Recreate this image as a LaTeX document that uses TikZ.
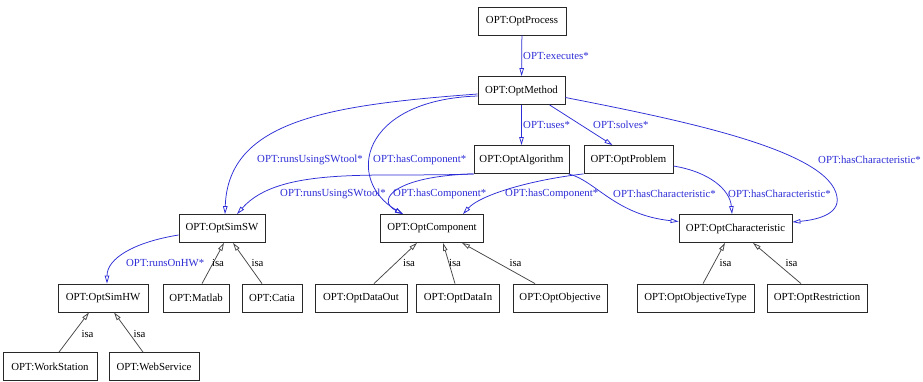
\documentclass[tikz,border=0pt]{standalone}
\usepackage{fontspec}
\setmainfont{Liberation Serif}
\usetikzlibrary{arrows.meta}
\definecolor{relblue}{RGB}{45,45,215}
\definecolor{boxgray}{RGB}{40,40,40}
\definecolor{isagray}{RGB}{70,70,70}
\begin{document}
\begin{tikzpicture}[x=1pt,y=-1pt,
  every node/.style={font=\fontsize{10.8}{12}\selectfont},
  box/.style={draw=boxgray, line width=0.8pt, minimum height=28pt, inner sep=2pt, fill=white},
  rel/.style={draw=relblue, line width=0.75pt, -{Triangle[open, length=8pt, width=4.5pt]}},
  isa/.style={draw=isagray, line width=0.75pt, -{Triangle[open, length=8pt, width=4.5pt]}},
  rlbl/.style={text=relblue, anchor=west, inner sep=0pt},
  ilbl/.style={text=black, inner sep=0pt}]
\useasboundingbox[fill=white] (0,0) rectangle (923,382);

% nodes
\node[box, minimum width=88pt] (proc) at (522,21) {OPT:OptProcess};
\node[box, minimum width=87pt] (meth) at (521.5,90.5) {OPT:OptMethod};
\node[box, minimum width=95pt] (alg) at (521.5,159.5) {OPT:OptAlgorithm};
\node[box, minimum width=89pt] (prob) at (628.5,159.5) {OPT:OptProblem};
\node[box, minimum width=86pt] (simsw) at (222,228.5) {OPT:OptSimSW};
\node[box, minimum width=103pt] (comp) at (432,228.5) {OPT:OptComponent};
\node[box, minimum width=113pt] (char) at (735.5,228.5) {OPT:OptCharacteristic};
\node[box, minimum width=90pt] (simhw) at (103,298) {OPT:OptSimHW};
\node[box, minimum width=66pt] (matlab) at (196,298) {OPT:Matlab};
\node[box, minimum width=60pt] (catia) at (272,298) {OPT:Catia};
\node[box, minimum width=92pt] (dout) at (361,298) {OPT:OptDataOut};
\node[box, minimum width=83pt] (din) at (458,298) {OPT:OptDataIn};
\node[box, minimum width=94pt] (obj) at (560,298) {OPT:OptObjective};
\node[box, minimum width=117pt] (otype) at (695.5,298) {OPT:OptObjectiveType};
\node[box, minimum width=100pt] (restr) at (817,298) {OPT:OptRestriction};
\node[box, minimum width=94pt] (wst) at (50,366.5) {OPT:WorkStation};
\node[box, minimum width=90pt] (wsv) at (154,366.5) {OPT:WebService};

% relation edges
\draw[rel] (proc) -- (meth);
\draw[rel] (meth) -- (alg);
\draw[rel] ([xshift=28pt]meth.south) -- ([xshift=-16pt]prob.north);
\draw[rel] ([yshift=-7pt]meth.east) .. controls (680,120) and (830,150) .. (837,197)
  .. controls (840,215) and (815,220) .. ([yshift=6.5pt]char.east);
\draw[rel] ([yshift=-3.5pt]meth.west) .. controls (330,105) and (228,120) .. ([xshift=3pt]simsw.north);
\draw[rel] ([yshift=-5.5pt]meth.west) .. controls (360,100) and (345,180) .. ([xshift=-29pt]comp.north);
\draw[rel] (alg.south west) .. controls (380,178) and (280,165) .. ([xshift=15pt]simsw.north);
\draw[rel] (alg.south west) .. controls (395,176) and (375,200) .. ([xshift=-29pt]comp.north);
\draw[rel] (prob.south west) .. controls (530,180) and (480,195) .. ([xshift=31pt]comp.north);
\draw[rel] ([xshift=-1pt]alg.south east) .. controls (595,180) and (615,215) .. ([yshift=7pt]char.west);
\draw[rel] ([yshift=-6.5pt]prob.east) .. controls (710,172) and (730,190) .. ([xshift=-3.5pt]char.north);
\draw[rel] ([yshift=-6.5pt]simsw.west) .. controls (135,242) and (107,258) .. ([xshift=4pt]simhw.north);

% relation labels
\node[rlbl] (l1) at (523,56) {OPT:executes*};
\node[rlbl] (l2) at (523,125) {OPT:uses*};
\node[rlbl] (l3) at (593,125) {OPT:solves*};
\node[rlbl] (l4) at (818,160) {OPT:hasCharacteristic*};
\node[rlbl] (l5) at (257,160) {OPT:runsUsingSWtool*};
\node[rlbl] (l6) at (373,160) {OPT:hasComponent*};
\node[rlbl] (l7) at (280,194) {OPT:runsUsingSWtool*};
\node[rlbl] (l8) at (393,194) {OPT:hasComponent*};
\node[rlbl] (l9) at (505,194) {OPT:hasComponent*};
\node[rlbl] (l10) at (613,194) {OPT:hasCharacteristic*};
\node[rlbl] (l11) at (728,194) {OPT:hasCharacteristic*};
\node[rlbl] (l12) at (126,263) {OPT:runsOnHW*};

% isa edges
\draw[isa] ([xshift=6pt]matlab.north) -- ([xshift=2pt]simsw.south);
\draw[isa] ([xshift=-10pt]catia.north) -- ([xshift=11pt]simsw.south);
\draw[isa] ([xshift=9pt]wst.north) -- ([xshift=-14pt]simhw.south);
\draw[isa] ([xshift=-11pt]wsv.north) -- ([xshift=11pt]simhw.south);
\draw[isa] ([xshift=13pt]dout.north) -- ([xshift=-15pt]comp.south);
\draw[isa] ([xshift=-3pt]din.north) -- ([xshift=11pt]comp.south);
\draw[isa] ([xshift=-25pt]obj.north) -- ([xshift=30pt]comp.south);
\draw[isa] ([xshift=7.5pt]otype.north) -- ([xshift=-10.5pt]char.south);
\draw[isa] ([xshift=-16pt]restr.north) -- ([xshift=17.5pt]char.south);

% isa labels
\node[ilbl] (i1) at (218,263) {isa};
\node[ilbl] (i2) at (257.5,263) {isa};
\node[ilbl] (i3) at (87.5,334) {isa};
\node[ilbl] (i4) at (139.5,334) {isa};
\node[ilbl] (i5) at (409,263) {isa};
\node[ilbl] (i6) at (455,263) {isa};
\node[ilbl] (i7) at (515.5,263) {isa};
\node[ilbl] (i8) at (725.5,263) {isa};
\node[ilbl] (i9) at (791.5,263) {isa};
\end{tikzpicture}
\end{document}
